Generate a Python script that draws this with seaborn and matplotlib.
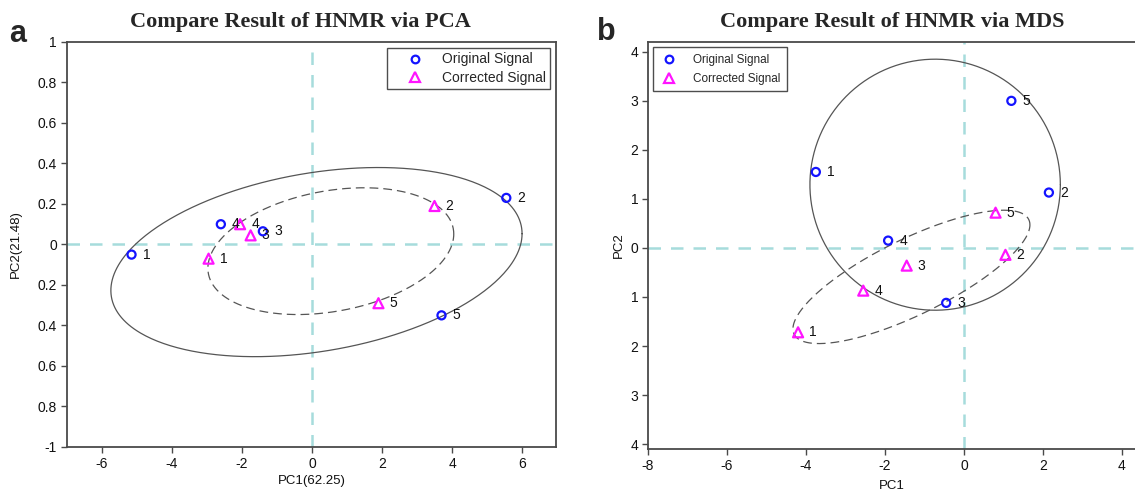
import numpy as np
import pandas as pd
import matplotlib
matplotlib.use("Agg")
import matplotlib.pyplot as plt
from matplotlib.lines import Line2D
from matplotlib import font_manager
import seaborn as sns

# ---------------- data ----------------
ids = ["1", "2", "3", "4", "5"]

# PCA panel
pca_orig_x = [-5.15, 5.55, -1.40, -2.60, 3.70]
pca_orig_y = [-0.05, 0.23, 0.065, 0.10, -0.35]
pca_corr_x = [-2.95, 3.50, -1.75, -2.05, 1.90]
pca_corr_y = [-0.07, 0.19, 0.045, 0.10, -0.29]

# MDS panel
mds_orig_x = [-3.75, 2.15, -0.45, -1.92, 1.20]
mds_orig_y = [1.55, 1.13, -1.12, 0.15, 3.00]
mds_corr_x = [-4.20, 1.05, -1.45, -2.55, 0.80]
mds_corr_y = [-1.72, -0.14, -0.36, -0.87, 0.72]

# ellipses: centre x, centre y, half-width x, half-height y, correlation
pca_ell_orig = [0.13, -0.087, 5.87, 0.467, 0.30]
pca_ell_corr = [0.54, -0.033, 3.51, 0.313, 0.27]
mds_ell_orig = [-0.73, 1.29, 3.17, 2.56, 0.0]
mds_ell_corr = [-1.33, -0.59, 3.00, 1.36, 0.78]

series_names = ["Original Signal", "Corrected Signal"]

pca_xticks = [-6, -4, -2, 0, 2, 4, 6]
pca_xticklabels = ["-6", "-4", "-2", "0", "2", "4", "6"]
pca_yticks = [-1, -0.8, -0.6, -0.4, -0.2, 0, 0.2, 0.4, 0.6, 0.8, 1]
pca_yticklabels = ["-1", "0.8", "0.6", "0.4", "0.2", "0", "0.2", "0.4", "0.6", "0.8", "1"]

mds_xticks = [-8, -6, -4, -2, 0, 2, 4]
mds_xticklabels = ["-8", "-6", "-4", "-2", "0", "2", "4"]
mds_yticks = [-4, -3, -2, -1, 0, 1, 2, 3, 4]
mds_yticklabels = ["4", "3", "2", "1", "0", "1", "2", "3", "4"]

titles = ["Compare Result of HNMR via PCA", "Compare Result of HNMR via MDS"]
xlabels = ["PC1(62.25)", "PC1"]
ylabels = ["PC2(21.48)", "PC2"]
panel_letters = ["a", "b"]

# ---------------- style ----------------
sns.set_theme(style="white")
names = {f.name for f in font_manager.fontManager.ttflist}
SANS = "Liberation Sans" if "Liberation Sans" in names else "DejaVu Sans"
NARROW = "Liberation Sans Narrow" if "Liberation Sans Narrow" in names else SANS
SERIF = "Liberation Serif" if "Liberation Serif" in names else "DejaVu Serif"
plt.rcParams["font.family"] = [SANS, "DejaVu Sans"]

BLUE = "#1414ff"
MAGENTA = "#ff14ff"
REF = "#a6dcdc"
SPINE = "#4a4a4a"
ELL = "#555555"

fig = plt.figure(figsize=(11.35, 4.92), dpi=100)
axL = fig.add_axes([0.0588, 0.0915, 0.4311, 0.8232])
axR = fig.add_axes([0.5709, 0.0874, 0.4291, 0.8272])


def ellipse_df(params, n=400):
    cx, cy, rx, ry, rho = params
    phi = np.arccos(rho)
    t = np.linspace(0, 2 * np.pi, n)
    return pd.DataFrame({"x": cx + rx * np.cos(t), "y": cy + ry * np.cos(t - phi), "t": t})


def draw_panel(ax, ox, oy, cx, cy, e_orig, e_corr, label_font):
    ax.axhline(0, color=REF, lw=1.8, ls=(0, (5, 4)), zorder=1)
    ax.axvline(0, color=REF, lw=1.8, ls=(0, (5, 4)), zorder=1)
    e1 = ellipse_df(e_orig)
    sns.lineplot(data=e1, x="x", y="y", sort=False, estimator=None, ax=ax,
                 color=ELL, lw=0.9, zorder=2)
    e2 = ellipse_df(e_corr)
    sns.lineplot(data=e2, x="x", y="y", sort=False, estimator=None, ax=ax,
                 color=ELL, lw=0.9, ls=(0, (7, 4)), zorder=2)
    df_o = pd.DataFrame({"x": ox, "y": oy, "id": ids})
    df_c = pd.DataFrame({"x": cx, "y": cy, "id": ids})
    sns.scatterplot(data=df_o, x="x", y="y", marker="o", s=34, ax=ax,
                    facecolor="none", edgecolor=BLUE, linewidth=1.6, zorder=4)
    sns.scatterplot(data=df_c, x="x", y="y", marker="^", s=52, ax=ax,
                    facecolor="none", edgecolor=MAGENTA, linewidth=1.6, zorder=4)
    for d in (df_o, df_c):
        for _, r in d.iterrows():
            ax.annotate(r["id"], (r["x"], r["y"]), xytext=(8, 0), textcoords="offset points",
                        ha="left", va="center", fontsize=10, color="#111111",
                        family=label_font, zorder=5)


draw_panel(axL, pca_orig_x, pca_orig_y, pca_corr_x, pca_corr_y, pca_ell_orig, pca_ell_corr, SANS)
draw_panel(axR, mds_orig_x, mds_orig_y, mds_corr_x, mds_corr_y, mds_ell_orig, mds_ell_corr, NARROW)

axL.set_xticks(pca_xticks, pca_xticklabels)
axL.set_yticks(pca_yticks, pca_yticklabels)
axR.set_xticks(mds_xticks, mds_xticklabels)
axR.set_yticks(mds_yticks, mds_yticklabels)
axL.set_xlim(-7, 6.97)
axL.set_ylim(-1, 1)
axR.set_xlim(-8, 4.33)
axR.set_ylim(-4.1, 4.2)

for ax, fam in ((axL, SANS), (axR, NARROW)):
    for sp in ax.spines.values():
        sp.set_color(SPINE)
        sp.set_linewidth(1.3)
    ax.tick_params(axis="both", direction="out", length=4, width=1, color=SPINE,
                   labelsize=10, labelcolor="#111111", left=True, bottom=True, pad=3)
    for lab in ax.get_xticklabels() + ax.get_yticklabels():
        lab.set_family(fam)
axR.spines["right"].set_visible(False)

axL.set_xlabel(xlabels[0], fontsize=9.5, labelpad=3, color="#111111")
axL.set_ylabel(ylabels[0], fontsize=9.5, labelpad=11, color="#111111")
axR.set_xlabel(xlabels[1], fontsize=9.5, labelpad=5, color="#111111", family=NARROW)
axR.set_ylabel(ylabels[1], fontsize=9.5, labelpad=4, color="#111111", family=NARROW)


def legend_handles():
    return [
        Line2D([], [], ls="none", marker="o", ms=5.5, mfc="none", mec=BLUE, mew=1.6),
        Line2D([], [], ls="none", marker="^", ms=6.5, mfc="none", mec=MAGENTA, mew=1.6),
    ]


legL = axL.legend(legend_handles(), series_names, loc="upper right", frameon=True, fancybox=False,
                  edgecolor="#222222", handlelength=3.3, handletextpad=0.3,
                  borderpad=0.3, labelspacing=0.3, borderaxespad=0.45,
                  prop={"family": SANS, "size": 10})
legL.get_frame().set_linewidth(1.0)
legR = axR.legend(legend_handles(), series_names, loc="upper left", frameon=True, fancybox=False,
                  edgecolor="#222222", handlelength=1.5, handletextpad=1.3,
                  borderpad=0.55, labelspacing=0.6, borderaxespad=0.45,
                  prop={"family": NARROW, "size": 8.5})
legR.get_frame().set_linewidth(1.0)

fig.text(300 / 1135, 1 - 22 / 492, titles[0], ha="center", va="center", fontsize=16,
         fontweight="bold", family=SERIF)
fig.text(892 / 1135, 1 - 22 / 492, titles[1], ha="center", va="center", fontsize=16,
         fontweight="bold", family=SERIF)
fig.text(18 / 1135, 1 - 34 / 492, panel_letters[0], ha="center", va="center", fontsize=22,
         fontweight="bold", family=SANS)
fig.text(606 / 1135, 1 - 32 / 492, panel_letters[1], ha="center", va="center", fontsize=22,
         fontweight="bold", family=SANS)

fig.savefig("out.png", dpi=100)
